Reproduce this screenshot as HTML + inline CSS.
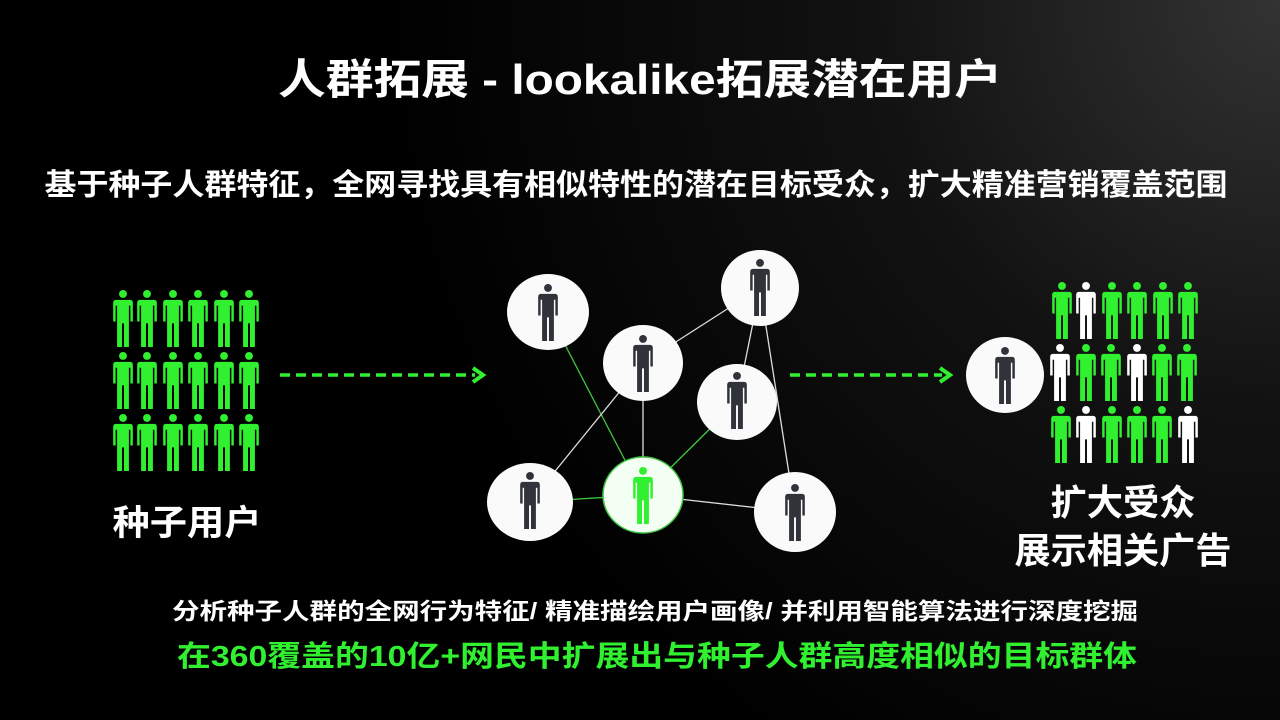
<!DOCTYPE html>
<html><head><meta charset="utf-8"><style>
html,body{margin:0;padding:0;background:#000;}
svg{display:block}
text{font-family:"Liberation Sans","Noto Sans CJK SC",sans-serif;font-weight:bold;}
</style></head><body>
<svg width="1280" height="720" viewBox="0 0 1280 720" xmlns="http://www.w3.org/2000/svg">
<defs>
<radialGradient id="bg" cx="1280" cy="0" r="900" gradientUnits="userSpaceOnUse">
<stop offset="0" stop-color="#333"/><stop offset="0.45" stop-color="#121212"/><stop offset="1" stop-color="#000"/>
</radialGradient>
<symbol id="p" viewBox="0 0 22 58" overflow="visible">
<circle cx="11" cy="4" r="4"/>
<path d="M4,10 H18 Q21,10 21,13 V32 H18.5 V16 H17 V58 H12 V34 H10 V58 H5 V16 H3.5 V32 H1 V13 Q1,10 4,10 Z"/>
</symbol>
</defs>
<rect width="1280" height="720" fill="url(#bg)"/>

<text x="640" y="94" font-size="42" fill="#fff" text-anchor="middle" textLength="724" lengthAdjust="spacingAndGlyphs">人群拓展 - lookalike拓展潜在用户</text>
<text x="636" y="195" font-size="30" fill="#fff" text-anchor="middle" textLength="1183" lengthAdjust="spacingAndGlyphs">基于种子人群特征，全网寻找具有相似特性的潜在目标受众，扩大精准营销覆盖范围</text>

<g fill="#30f030">
<g id="row1">
<use href="#p" x="112" y="290" width="22" height="57"/>
<use href="#p" x="136" y="290" width="22" height="57"/>
<use href="#p" x="162" y="290" width="22" height="57"/>
<use href="#p" x="187" y="290" width="22" height="57"/>
<use href="#p" x="213" y="290" width="22" height="57"/>
<use href="#p" x="238" y="290" width="22" height="57"/>
</g>
<use href="#row1" y="62"/>
<use href="#row1" y="124"/>
</g>
<text x="187" y="535" font-size="35" fill="#fff" text-anchor="middle" textLength="149" lengthAdjust="spacingAndGlyphs">种子用户</text>

<g stroke="#30f030" stroke-width="3.5" fill="none">
<line x1="280" y1="375" x2="475" y2="375" stroke-dasharray="10 6"/>
<polyline points="473,368 483,375 473,382" stroke-width="4"/>
<line x1="790" y1="375" x2="942" y2="375" stroke-dasharray="10 6"/>
<polyline points="940,368 950,375 940,382" stroke-width="4"/>
</g>

<g stroke-width="1.3">
<line x1="548" y1="312" x2="643" y2="495" stroke="#3fc83f"/>
<line x1="737" y1="402" x2="643" y2="495" stroke="#3fc83f"/>
<line x1="530" y1="502" x2="643" y2="495" stroke="#3fc83f"/>
<line x1="643" y1="363" x2="530" y2="502" stroke="#ddd"/>
<line x1="643" y1="363" x2="643" y2="495" stroke="#ddd"/>
<line x1="760" y1="288" x2="643" y2="363" stroke="#ddd"/>
<line x1="760" y1="288" x2="737" y2="402" stroke="#ddd"/>
<line x1="760" y1="288" x2="795" y2="512" stroke="#ddd"/>
<line x1="643" y1="495" x2="795" y2="512" stroke="#ddd"/>
</g>
<g fill="#fafafa">
<ellipse cx="548" cy="312" rx="41" ry="38"/>
<ellipse cx="643" cy="363" rx="40" ry="38"/>
<ellipse cx="760" cy="288" rx="39" ry="38"/>
<ellipse cx="737" cy="402" rx="40" ry="38"/>
<ellipse cx="530" cy="502" rx="43" ry="39"/>
<ellipse cx="795" cy="512" rx="41" ry="40"/>
<ellipse cx="1005" cy="375" rx="39" ry="38"/>
</g>
<ellipse cx="643" cy="495" rx="40" ry="38" fill="#f4fff4" stroke="#3fc83f" stroke-width="1.5"/>
<g fill="#30333a">
<use href="#p" x="537" y="284" width="22" height="57"/>
<use href="#p" x="632" y="335" width="22" height="57"/>
<use href="#p" x="749" y="259" width="22" height="57"/>
<use href="#p" x="726" y="372" width="22" height="57"/>
<use href="#p" x="519" y="472" width="22" height="57"/>
<use href="#p" x="784" y="484" width="22" height="57"/>
<use href="#p" x="994" y="347" width="22" height="57"/>
</g>
<use href="#p" x="632" y="467" width="22" height="57" fill="#30f030"/>

<g>
<use href="#p" x="1051" y="282" width="22" height="57" fill="#30f030"/>
<use href="#p" x="1075" y="282" width="22" height="57" fill="#fff"/>
<use href="#p" x="1101" y="282" width="22" height="57" fill="#30f030"/>
<use href="#p" x="1126" y="282" width="22" height="57" fill="#30f030"/>
<use href="#p" x="1152" y="282" width="22" height="57" fill="#30f030"/>
<use href="#p" x="1177" y="282" width="22" height="57" fill="#30f030"/>

<use href="#p" x="1049" y="344" width="22" height="57" fill="#fff"/>
<use href="#p" x="1075" y="344" width="22" height="57" fill="#30f030"/>
<use href="#p" x="1100" y="344" width="22" height="57" fill="#30f030"/>
<use href="#p" x="1126" y="344" width="22" height="57" fill="#fff"/>
<use href="#p" x="1151" y="344" width="22" height="57" fill="#30f030"/>
<use href="#p" x="1176" y="344" width="22" height="57" fill="#30f030"/>

<use href="#p" x="1050" y="406" width="22" height="57" fill="#30f030"/>
<use href="#p" x="1075" y="406" width="22" height="57" fill="#fff"/>
<use href="#p" x="1101" y="406" width="22" height="57" fill="#30f030"/>
<use href="#p" x="1126" y="406" width="22" height="57" fill="#30f030"/>
<use href="#p" x="1151" y="406" width="22" height="57" fill="#30f030"/>
<use href="#p" x="1177" y="406" width="22" height="57" fill="#fff"/>
</g>
<text x="1123" y="515" font-size="36" fill="#fff" text-anchor="middle" textLength="145" lengthAdjust="spacingAndGlyphs">扩大受众</text>
<text x="1123" y="563" font-size="36" fill="#fff" text-anchor="middle" textLength="217" lengthAdjust="spacingAndGlyphs">展示相关广告</text>

<text x="172" y="619" font-size="23" fill="#fff" textLength="966" lengthAdjust="spacingAndGlyphs">分析种子人群的全网行为特征/  精准描绘用户画像/  并利用智能算法进行深度挖掘</text>
<text x="177" y="666" font-size="29" fill="#30f030" textLength="960" lengthAdjust="spacingAndGlyphs">在360覆盖的10亿+网民中扩展出与种子人群高度相似的目标群体</text>
</svg>
</body></html>
